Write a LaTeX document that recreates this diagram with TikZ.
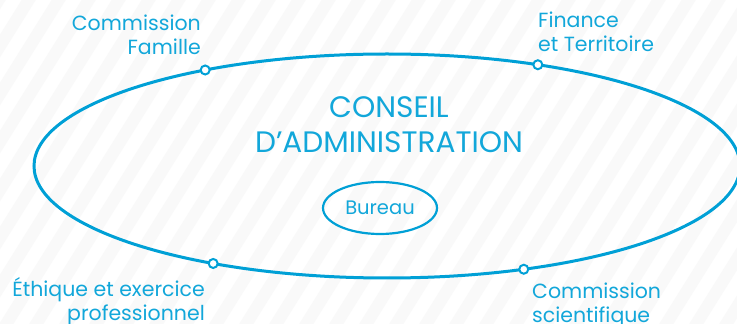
\documentclass[tikz,border=0pt]{standalone}
\usepackage{fontspec}
\setmainfont{Poppins}
\usetikzlibrary{shapes.geometric}
\definecolor{cablue}{RGB}{0,160,214}
\definecolor{catext}{RGB}{18,167,218}
\definecolor{stripecol}{RGB}{249,249,249}
\tikzset{
  stripe/.style={draw=stripecol, line width=12pt},
  bigell/.style={ellipse, draw=cablue, line width=3pt, inner sep=0pt, minimum width=706pt, minimum height=224pt},
  smallell/.style={ellipse, draw=cablue, line width=2.2pt, inner sep=0pt, minimum width=114pt, minimum height=52pt, text=catext, font=\fontsize{19.5}{23}\selectfont},
  dot/.style={circle, draw=cablue, fill=white, line width=2pt, inner sep=0pt, minimum size=9pt},
  title/.style={text=catext, inner sep=0pt, font=\fontsize{29.6}{34}\selectfont},
  lab/.style={text=catext, inner sep=0pt, font=\fontsize{20.5}{24}\selectfont}
}
\begin{document}
\begin{tikzpicture}[x=1pt,y=1pt]
\useasboundingbox (0,0) rectangle (737,324);
\fill[white] (0,0) rectangle (737,324);
\begin{scope}
\clip (0,0) rectangle (737,324);
\foreach \i in {-8,...,26} \draw[stripe] (\i*30,-10) -- ++(58:420);
\end{scope}
\node[bigell] (ca) at (387,158) {};
\node[title, anchor=base] (t1) at (389,206) {CONSEIL};
\node[title, anchor=base] (t2) at (389,171) {D’ADMINISTRATION};
\node[smallell] (bur) at (380,116) {Bureau};
\node[dot] (d1) at ([shift={(ca.center)}] 121:353 and 112) {};
\node[dot] (d2) at ([shift={(ca.center)}] 64.7:353 and 112) {};
\node[dot] (d3) at ([shift={(ca.center)}] 240.5:353 and 112) {};
\node[dot] (d4) at ([shift={(ca.center)}] 292.8:353 and 112) {};
\node[lab, align=right, anchor=north east] (l1) at (201,309) {Commission\\Famille};
\node[lab, align=left, anchor=north west] (l2) at (538,312) {Finance\\et Territoire};
\node[lab, align=right, anchor=north east] (l3) at (205,47) {Éthique et exercice\\professionnel};
\node[lab, align=left, anchor=north west] (l4) at (532,41) {Commission\\scientifique};
\end{tikzpicture}
\end{document}
